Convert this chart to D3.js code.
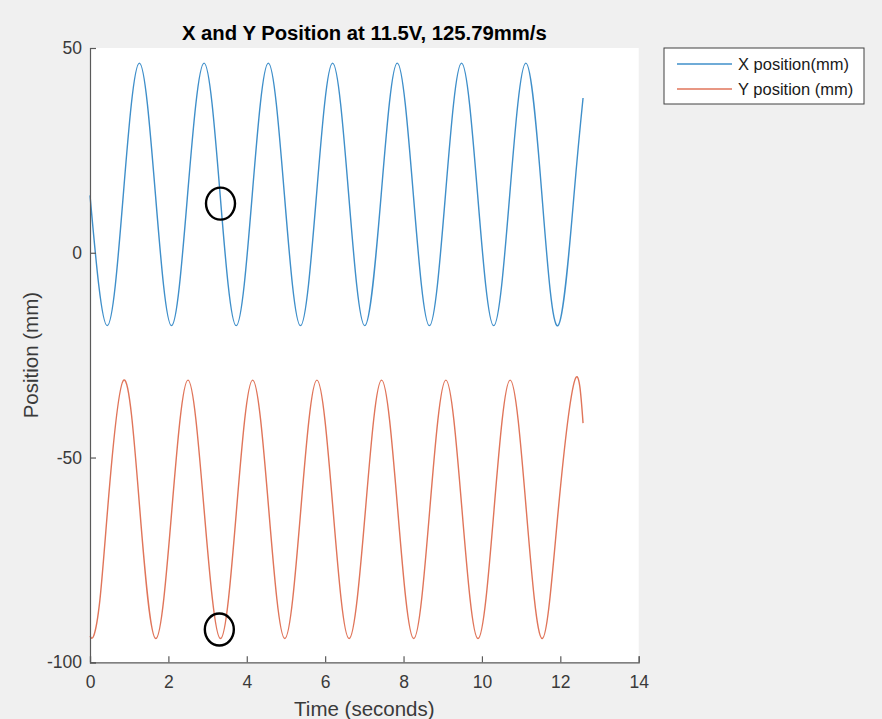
<!DOCTYPE html>
<html>
<head>
<meta charset="utf-8">
<script src="https://cdn.jsdelivr.net/npm/d3@7"></script>
<style>
  body { margin: 0; background: #f0f0f0; }
  svg { display: block; font-family: "Liberation Sans", Arial, sans-serif; }
  .axis path, .axis line { stroke: #5a5a5a; stroke-width: 1.2; }
  .axis text { fill: #3a3a3a; font-size: 17.5px; font-family: "Liberation Sans", Arial, sans-serif; }
</style>
</head>
<body>
<svg id="chart" width="882" height="719"></svg>
<script>
// Peaks, troughs and mid-crossings: [time (s), position (mm)]
const xPosition = [
    [0, 14], [0.44, -17.8], [0.85, 14.2], [1.26, 46.3], [1.67, 14.2],
    [2.08, -17.8], [2.49, 14.2], [2.91, 46.3], [3.32, 14.2], [3.73, -17.8],
    [4.14, 14.2], [4.55, 46.3], [4.96, 14.2], [5.37, -17.8], [5.78, 14.2],
    [6.19, 46.3], [6.60, 14.2], [7.01, -17.8], [7.43, 14.2], [7.84, 46.3],
    [8.25, 14.2], [8.66, -17.8], [9.07, 14.2], [9.48, 46.3], [9.89, 14.2],
    [10.30, -17.8], [10.71, 14.2], [11.12, 46.3], [11.53, 14.2], [11.94, -17.8],
    [12.35, 14.2], [12.58, 37.8]
];
const yPosition = [
    [0, -93.6], [0.1, -93.4], [0.25, -85.0], [0.45, -62.6], [0.86, -31.1],
    [1.27, -62.6], [1.68, -94.2],
    [2.09, -62.6], [2.50, -31.1], [2.91, -62.6], [3.33, -94.2], [3.74, -62.6],
    [4.15, -31.1], [4.56, -62.6], [4.97, -94.2], [5.38, -62.6], [5.79, -31.1],
    [6.20, -62.6], [6.61, -94.2], [7.03, -62.6], [7.44, -31.1], [7.85, -62.6],
    [8.26, -94.2], [8.67, -62.6], [9.08, -31.1], [9.49, -62.6], [9.90, -94.2],
    [10.31, -62.6], [10.72, -31.1], [11.13, -62.6], [11.54, -94.2], [11.95, -62.6],
    [12.37, -31.1], [12.58, -41.6]
];
const seriesNames = ['X position(mm)', 'Y position (mm)'];
const seriesColors = ['#3f8fca', '#e0755a'];
const xTicks = [0, 2, 4, 6, 8, 10, 12, 14];
const yTicks = [-100, -50, 0, 50];
// hand-drawn circles on the picture, in data units
const marks = [[3.33, 12.0], [3.30, -92.0]];

const svg = d3.select('#chart');
const margin = {left: 90, right: 243, top: 48, bottom: 57};

const x = d3.scaleLinear().domain([0, 14]).range([margin.left, 638.7]);
const y = d3.scaleLinear().domain([-100, 50]).range([662.3, margin.top]);

// white plot area
svg.append('rect')
    .attr('x', x(0)).attr('y', y(50))
    .attr('width', x(14) - x(0)).attr('height', y(-100) - y(50))
    .attr('fill', '#fff');

const line = d3.line()
    .x(d => x(d[0]))
    .y(d => y(d[1]))
    .curve(d3.curveNatural);

[xPosition, yPosition].forEach((s, i) => {
    svg.append('path')
        .datum(s)
        .attr('fill', 'none')
        .attr('stroke', seriesColors[i])
        .attr('stroke-width', 1.4)
        .attr('d', line);
});

// axes, ticks pointing inward like MATLAB
svg.append('g')
    .attr('class', 'axis')
    .attr('transform', `translate(0,${y(-100)})`)
    .call(d3.axisTop(x).tickValues(xTicks).tickSize(6).tickSizeOuter(6).tickFormat(d3.format('d')))
    .call(g => g.selectAll('text').attr('y', 26).attr('dy', 0));

svg.append('g')
    .attr('class', 'axis')
    .attr('transform', `translate(${x(0)},0)`)
    .call(d3.axisRight(y).tickValues(yTicks).tickSize(6).tickSizeOuter(6).tickFormat(d => d))
    .call(g => g.selectAll('text').attr('x', -8).attr('text-anchor', 'end'));

// circles
svg.selectAll('ellipse.mark')
    .data(marks)
    .enter()
    .append('ellipse')
    .attr('class', 'mark')
    .attr('cx', d => x(d[0]))
    .attr('cy', d => y(d[1]))
    .attr('rx', 14.5)
    .attr('ry', 16)
    .attr('fill', 'none')
    .attr('stroke', '#000')
    .attr('stroke-width', 2.4);

// title and labels
svg.append('text')
    .attr('x', (x(0) + x(14)) / 2).attr('y', 40)
    .attr('text-anchor', 'middle')
    .style('font-size', '20.3px').style('font-weight', 'bold')
    .attr('fill', '#000')
    .text('X and Y Position at 11.5V, 125.79mm/s');

svg.append('text')
    .attr('x', (x(0) + x(14)) / 2).attr('y', 716)
    .attr('text-anchor', 'middle')
    .style('font-size', '20.5px')
    .attr('fill', '#3a3a3a')
    .text('Time (seconds)');

svg.append('text')
    .attr('transform', `translate(38,${(y(-100) + y(50)) / 2}) rotate(-90)`)
    .attr('text-anchor', 'middle')
    .style('font-size', '20.5px')
    .attr('fill', '#3a3a3a')
    .text('Position (mm)');

// legend
const legend = svg.append('g').attr('transform', 'translate(664,48)');
legend.append('rect')
    .attr('width', 200).attr('height', 56)
    .attr('fill', '#fff').attr('stroke', '#404040').attr('stroke-width', 1);
seriesNames.forEach((name, i) => {
    const ly = 16 + i * 25;
    legend.append('line')
        .attr('x1', 13).attr('x2', 68).attr('y1', ly).attr('y2', ly)
        .attr('stroke', seriesColors[i]).attr('stroke-width', 1.4);
    legend.append('text')
        .attr('x', 74).attr('y', ly + 6)
        .style('font-size', '16.5px')
        .attr('fill', '#1a1a1a')
        .text(name);
});
</script>
</body>
</html>
